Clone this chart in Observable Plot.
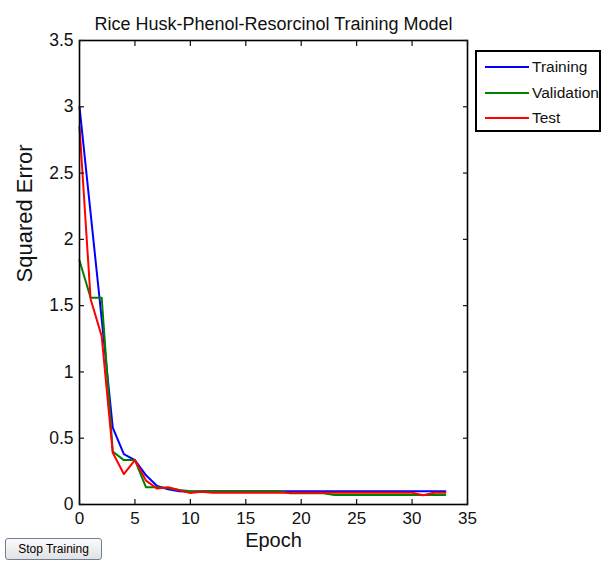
<!DOCTYPE html>
<html>
<head>
<meta charset="utf-8">
<script src="https://cdn.jsdelivr.net/npm/d3@7"></script>
<script src="https://cdn.jsdelivr.net/npm/@observablehq/plot@0.6"></script>
<style>
  html, body { margin: 0; padding: 0; background: #fff; }
  #wrap { position: relative; width: 611px; height: 562px; font-family: "Liberation Sans", Arial, Helvetica, sans-serif; }
  #legend { position: absolute; left: 475px; top: 50px; width: 122px; height: 78px; border: 2px solid #000; background: #fff; box-sizing: content-box; }
  .li { position: absolute; left: 8px; height: 20px; display: flex; align-items: center; font-size: 15.5px; color: #111; }
  .li span.sw { display: inline-block; width: 44px; height: 2px; margin-right: 3px; }
  #stop { position: absolute; left: 5px; top: 538px; width: 97px; height: 22px; font-family: "Liberation Sans", Arial, sans-serif; font-size: 12px; color: #000;
          background: linear-gradient(#fbfbfb, #e2e2e2); border: 1px solid #6c7f9c; border-radius: 3px; padding: 0; }
</style>
</head>
<body>
<div id="wrap"></div>
<script>
// ---- data ----
const epochs = d3.range(0, 34);
const training = [3.0, 2.2, 1.4, 0.58, 0.38, 0.335, 0.22, 0.14, 0.115, 0.10, 0.097,
  0.10, 0.10, 0.10, 0.10, 0.10, 0.10, 0.10, 0.10, 0.10, 0.10, 0.10, 0.10,
  0.10, 0.10, 0.10, 0.10, 0.10, 0.10, 0.10, 0.10, 0.10, 0.10, 0.10];
const validation = [1.84, 1.56, 1.56, 0.40, 0.335, 0.335, 0.13, 0.13, 0.125, 0.11, 0.10,
  0.10, 0.10, 0.10, 0.10, 0.10, 0.10, 0.10, 0.10, 0.085, 0.085, 0.085, 0.085,
  0.072, 0.072, 0.072, 0.072, 0.072, 0.072, 0.072, 0.072, 0.072, 0.072, 0.072];
const test = [2.85, 1.55, 1.27, 0.39, 0.23, 0.335, 0.18, 0.12, 0.13, 0.107, 0.086,
  0.097, 0.088, 0.088, 0.088, 0.088, 0.088, 0.088, 0.088, 0.088, 0.088, 0.088, 0.088,
  0.088, 0.088, 0.088, 0.088, 0.088, 0.088, 0.088, 0.088, 0.07, 0.088, 0.088];
const seriesNames = ["Training", "Validation", "Test"];
const seriesColors = ["#0000ff", "#008000", "#ff0000"];
const xTicks = [0, 5, 10, 15, 20, 25, 30, 35];
const yTicks = [0, 0.5, 1, 1.5, 2, 2.5, 3, 3.5];
const title = "Rice Husk-Phenol-Resorcinol Training Model";
const xLabel = "Epoch";
const yLabel = "Squared Error";

const rows = [];
[training, validation, test].forEach((vals, i) => {
  vals.forEach((v, j) => rows.push({series: seriesNames[i], epoch: epochs[j], value: v}));
});

const fmt = d => String(d);
const font = "\"Liberation Sans\", Arial, Helvetica, sans-serif";
const chart = Plot.plot({
  width: 611,
  height: 562,
  marginLeft: 79,
  marginRight: 144,
  marginTop: 40,
  marginBottom: 58,
  style: {fontFamily: font, fontSize: "17px", color: "#111", background: "#fff"},
  x: {domain: [0, 35], label: null},
  y: {domain: [0, 3.5], label: null},
  color: {domain: seriesNames, range: seriesColors},
  marks: [
    Plot.lineY(rows, {x: "epoch", y: "value", stroke: "series", strokeWidth: 2}),
    Plot.frame({stroke: "#000", strokeWidth: 1.6}),
    // inward ticks on all sides
    Plot.axisX(xTicks, {anchor: "bottom", tickSize: -5, tickFormat: () => "", strokeWidth: 1.2}),
    Plot.axisX(xTicks, {anchor: "top", tickSize: -5, tickFormat: () => "", strokeWidth: 1.2}),
    Plot.axisY(yTicks, {anchor: "left", tickSize: -5, tickFormat: () => "", strokeWidth: 1.2}),
    Plot.axisY(yTicks, {anchor: "right", tickSize: -5, tickFormat: () => "", strokeWidth: 1.2}),
    // labels
    Plot.axisX(xTicks, {anchor: "bottom", tickSize: 0, tickPadding: 7, fontSize: 17, tickFormat: fmt, label: null}),
    Plot.axisY(yTicks, {anchor: "left", tickSize: 0, tickPadding: 6, fontSize: 17.5, tickFormat: fmt, label: null}),
    Plot.text([title], {frameAnchor: "top", dy: -23, fontSize: 18, fill: "#111"}),
    Plot.text([xLabel], {frameAnchor: "bottom", dy: 42, fontSize: 20, fill: "#111"}),
    Plot.text([yLabel], {frameAnchor: "left", dx: -55, dy: 10, rotate: -90, fontSize: 22, fill: "#111"})
  ]
});
const wrap = document.getElementById("wrap");
wrap.appendChild(chart);

// legend
const legend = document.createElement("div");
legend.id = "legend";
seriesNames.forEach((name, i) => {
  const item = document.createElement("div");
  item.className = "li";
  item.style.top = (5 + i * 25.5) + "px";
  const sw = document.createElement("span");
  sw.className = "sw";
  sw.style.background = seriesColors[i];
  item.appendChild(sw);
  item.appendChild(document.createTextNode(name));
  legend.appendChild(item);
});
wrap.appendChild(legend);

const btn = document.createElement("button");
btn.id = "stop";
btn.textContent = "Stop Training";
wrap.appendChild(btn);
</script>
</body>
</html>
